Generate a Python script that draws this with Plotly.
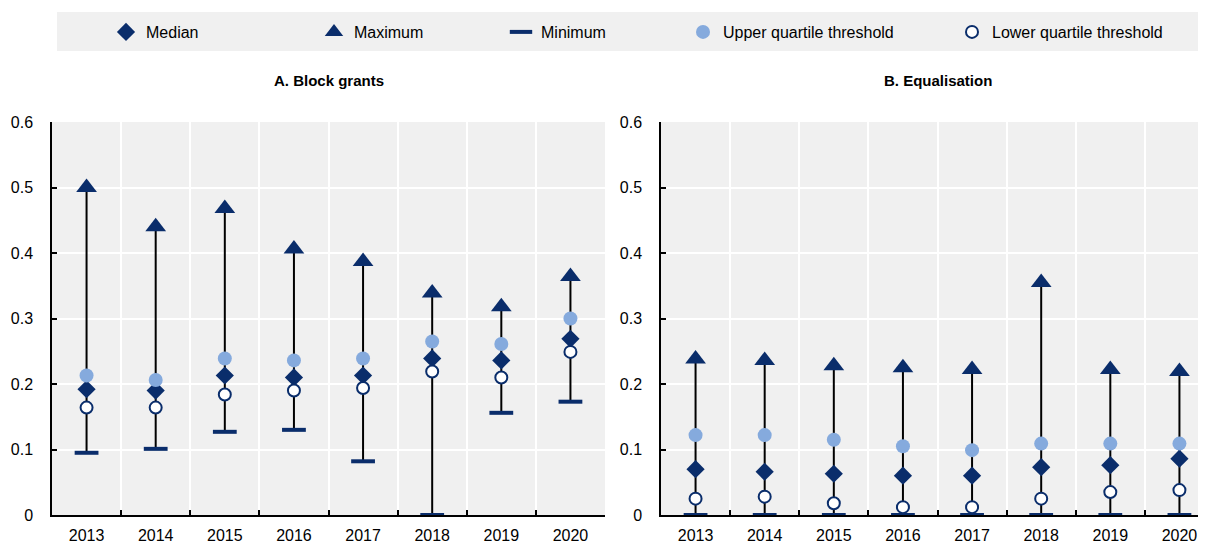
import plotly.graph_objects as go

years = ["2013", "2014", "2015", "2016", "2017", "2018", "2019", "2020"]

# Panel A: Block grants
a_median = [0.192, 0.190, 0.213, 0.210, 0.213, 0.239, 0.236, 0.269]
a_max = [0.500, 0.440, 0.468, 0.406, 0.387, 0.339, 0.318, 0.364]
a_min = [0.095, 0.101, 0.127, 0.130, 0.082, 0.000, 0.156, 0.173]
a_uq = [0.213, 0.206, 0.239, 0.236, 0.239, 0.265, 0.261, 0.300]
a_lq = [0.164, 0.164, 0.184, 0.190, 0.194, 0.219, 0.210, 0.249]

# Panel B: Equalisation
b_median = [0.070, 0.066, 0.063, 0.060, 0.060, 0.073, 0.076, 0.086]
b_max = [0.238, 0.236, 0.228, 0.225, 0.222, 0.355, 0.222, 0.219]
b_min = [0.000, 0.000, 0.000, 0.000, 0.000, 0.000, 0.000, 0.000]
b_uq = [0.122, 0.122, 0.115, 0.105, 0.099, 0.109, 0.109, 0.109]
b_lq = [0.025, 0.028, 0.018, 0.012, 0.012, 0.025, 0.035, 0.038]

titles = ["A. Block grants", "B. Equalisation"]

NAVY = "#0a2d6b"
LIGHT = "#85aadd"
BG = "#f0f0f0"
FONT = "Liberation Sans, Arial, sans-serif"

OFF = 8  # default page body margin
W, H = 1206 - OFF, 544 - OFF
# plot area in page pixels: x 52..1206, y 122..515
ML = 52 - OFF
MT = 122 - OFF
MR = 0
MB = 544 - 515
PW = W - ML - MR
PH = H - MT - MB


def px_x(p):
    return (p - OFF - ML) / PW


def px_y(p):
    return (H - MB - (p - OFF)) / PH


fig = go.Figure()

panels = [
    ("x", "y", a_median, a_max, a_min, a_uq, a_lq, True),
    ("x2", "y2", b_median, b_max, b_min, b_uq, b_lq, False),
]

for xa, ya, med, mx, mn, uq, lq, show in panels:
    lx, ly = [], []
    for yr, lo, hi in zip(years, mn, mx):
        lx += [yr, yr, None]
        ly += [lo, hi, None]
    fig.add_trace(go.Scatter(x=lx, y=ly, mode="lines", xaxis=xa, yaxis=ya,
                             line=dict(color="black", width=2),
                             showlegend=False, hoverinfo="skip", cliponaxis=False))
    fig.add_trace(go.Scatter(x=years, y=mn, mode="markers", name="Minimum",
                             xaxis=xa, yaxis=ya, legend="legend3", showlegend=show,
                             cliponaxis=False,
                             marker=dict(symbol="line-ew", size=17,
                                         line=dict(color=NAVY, width=4))))
    fig.add_trace(go.Scatter(x=years, y=mx, mode="markers", name="Maximum",
                             xaxis=xa, yaxis=ya, legend="legend2", showlegend=show,
                             cliponaxis=False,
                             marker=dict(symbol="triangle-up", size=18, color=NAVY)))
    fig.add_trace(go.Scatter(x=years, y=med, mode="markers", name="Median",
                             xaxis=xa, yaxis=ya, legend="legend", showlegend=show,
                             cliponaxis=False,
                             marker=dict(symbol="diamond", size=14, color=NAVY)))
    fig.add_trace(go.Scatter(x=years, y=uq, mode="markers", name="Upper quartile threshold",
                             xaxis=xa, yaxis=ya, legend="legend4", showlegend=show,
                             cliponaxis=False,
                             marker=dict(symbol="circle", size=14, color=LIGHT)))
    fig.add_trace(go.Scatter(x=years, y=lq, mode="markers", name="Lower quartile threshold",
                             xaxis=xa, yaxis=ya, legend="legend5", showlegend=show,
                             cliponaxis=False,
                             marker=dict(symbol="circle", size=12, color="white",
                                         line=dict(color=NAVY, width=2))))

cat_w = (605 - 52) / 8.0
right_units = (1206 - 661) / cat_w

xcommon = dict(type="category", categoryorder="array", categoryarray=years,
               showline=True, linecolor="black", linewidth=1.5,
               ticks="inside", ticklen=5, tickwidth=1.5, tickcolor="black",
               tickson="boundaries", showgrid=True, gridcolor="white", gridwidth=2,
               tickfont=dict(family=FONT, size=16, color="black"),
               ticklabelstandoff=5, fixedrange=True)
ycommon = dict(range=[0, 0.6], dtick=0.1, tick0=0, showline=True, linecolor="black",
               linewidth=1.5, ticks="inside", ticklen=5, tickwidth=1.5, tickcolor="black",
               showgrid=True, gridcolor="white", gridwidth=2, zeroline=False,
               tickfont=dict(family=FONT, size=16, color="black"),
               ticklabelstandoff=14, fixedrange=True)

fig.update_layout(
    width=W, height=H,
    margin=dict(l=ML, r=MR, t=MT, b=MB),
    paper_bgcolor="white", plot_bgcolor=BG,
    font=dict(family=FONT, size=16, color="black"),
    xaxis=dict(domain=[0, px_x(605)], range=[-0.5, 7.5], anchor="y", **xcommon),
    yaxis=dict(domain=[0, 1], anchor="x", **ycommon),
    xaxis2=dict(domain=[px_x(661), 1], range=[-0.5, -0.5 + right_units], anchor="y2", **xcommon),
    yaxis2=dict(domain=[0, 1], anchor="x2", **ycommon),
)

leg_text_x = [146, 354, 541, 723, 992]
leg_names = ["legend", "legend2", "legend3", "legend4", "legend5"]
for name, tx in zip(leg_names, leg_text_x):
    fig.update_layout({name: dict(x=px_x(tx - 40), xanchor="left", y=px_y(32), yanchor="middle",
                                  orientation="h", bgcolor="rgba(0,0,0,0)",
                                  font=dict(family=FONT, size=16, color="black"))})

fig.add_shape(type="rect", xref="paper", yref="paper",
              x0=px_x(57), x1=1.01, y0=px_y(51), y1=px_y(12),
              fillcolor=BG, line=dict(width=0), layer="below")

for t, cx in zip(titles, [(52 + 605) / 2, (661 + 661 + 8 * cat_w) / 2]):
    fig.add_annotation(text="<b>%s</b>" % t, xref="paper", yref="paper",
                       x=px_x(cx), y=px_y(80), xanchor="center", yanchor="middle",
                       showarrow=False, font=dict(family=FONT, size=15, color="black"))

fig.write_html("out.html")
